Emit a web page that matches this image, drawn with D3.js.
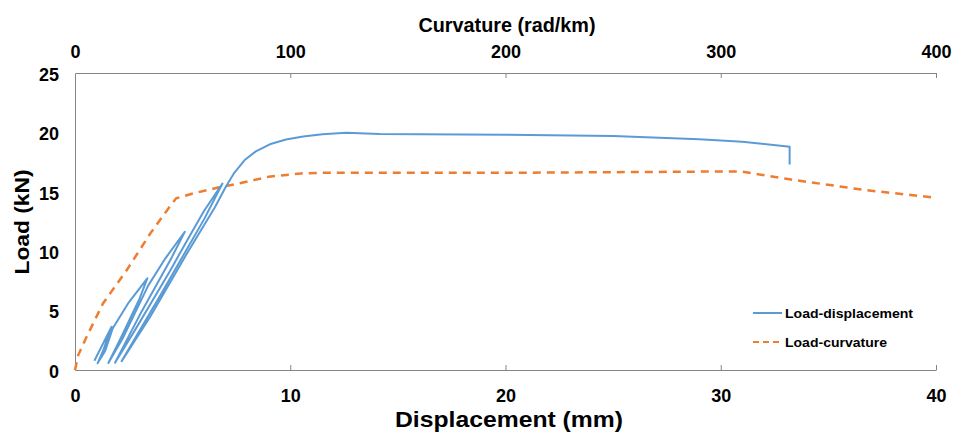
<!DOCTYPE html>
<html>
<head>
<meta charset="utf-8">
<script src="https://cdn.jsdelivr.net/npm/d3@7"></script>
<style>
  body { margin: 0; background: #fff; }
  svg { font-family: "Liberation Sans", Arial, sans-serif; }
  .tick text { font-weight: bold; font-size: 18px; fill: #000; }
  .axis-title { font-weight: bold; fill: #000; }
</style>
</head>
<body>
<div id="chart"></div>
<script>
const width = 962;
const height = 435;

// Load-displacement (mm, kN), cyclic loops then envelope
const dispValues = [0.9, 1.7, 1.3, 1.05, 1.4, 1.75, 2.5, 3.36, 3.0, 2.1, 1.55, 2.2, 3.4, 4.2, 5.1, 4.5, 3.0, 1.86, 2.8, 4.4, 5.3, 6.0, 6.85, 6.0, 4.0, 2.17, 3.5, 5.2, 6.5, 7.0, 7.4, 7.9, 8.4, 9.05, 9.8, 10.6, 11.5, 12.6, 14.15, 16, 20, 25, 29, 31, 33.2, 33.2];
const dispLoads  = [0.78, 3.64, 1.6, 0.56, 1.6, 3.5, 5.7, 7.72, 6.0, 2.6, 0.6, 2.6, 7.1, 9.4, 11.64, 9.5, 4.6, 0.62, 3.4, 8.3, 11.2, 13.4, 15.7, 12.7, 6.4, 0.75, 4.5, 9.8, 13.7, 15.4, 16.6, 17.7, 18.4, 19.0, 19.4, 19.65, 19.85, 19.97, 19.87, 19.84, 19.8, 19.7, 19.42, 19.22, 18.8, 17.3];

// Load-curvature (rad/km, kN)
const curvValues = [0, 1.5, 5.4, 13, 24, 35, 44, 47, 55, 67, 75, 90, 105, 114, 200, 250, 290, 310, 332, 367, 400];
const curvLoads  = [0, 1.26, 2.8, 5.6, 8.4, 11.5, 13.75, 14.45, 14.87, 15.38, 15.66, 16.27, 16.55, 16.6, 16.6, 16.65, 16.7, 16.7, 16.05, 15.15, 14.5];

const dispTicks = [0, 10, 20, 30, 40];
const curvTicks = [0, 100, 200, 300, 400];
const loadTicks = [0, 5, 10, 15, 20, 25];

const margin = { top: 73, right: 26, bottom: 65, left: 75 };
const innerW = width - margin.left - margin.right;
const innerH = height - margin.top - margin.bottom;

const svg = d3.select("#chart")
  .append("svg")
  .attr("width", width)
  .attr("height", height);

const g = svg.append("g")
  .attr("transform", `translate(${margin.left},${margin.top})`);

const x = d3.scaleLinear().domain([0, 40]).range([0, innerW]);
const xTop = d3.scaleLinear().domain([0, 400]).range([0, innerW]);
const y = d3.scaleLinear().domain([0, 25]).range([innerH, 0]);

const axisColor = "#858585";

// bottom axis
const bottomAxis = g.append("g")
  .attr("transform", `translate(0,${innerH})`)
  .call(d3.axisBottom(x).tickValues(dispTicks).tickSizeInner(-5).tickSizeOuter(0).tickPadding(19));
// top axis
const topAxis = g.append("g")
  .call(d3.axisTop(xTop).tickValues(curvTicks).tickSizeInner(-5).tickSizeOuter(0).tickPadding(15));
// left axis
const leftAxis = g.append("g")
  .call(d3.axisLeft(y).tickValues(loadTicks).tickSize(0).tickPadding(16));

[bottomAxis, topAxis, leftAxis].forEach(a => {
  a.select(".domain").attr("stroke", axisColor);
  a.selectAll(".tick line").attr("stroke", axisColor);
});
bottomAxis.selectAll(".tick").filter(d => d === 0).select("line").remove();
topAxis.selectAll(".tick").filter(d => d === 0).select("line").remove();
leftAxis.selectAll(".tick text").attr("dy", "0.4em");

const dispData = dispValues.map((d, i) => ({ x: d, y: dispLoads[i] }));
const curvData = curvValues.map((d, i) => ({ x: d, y: curvLoads[i] }));

g.append("path")
  .datum(curvData)
  .attr("fill", "none")
  .attr("stroke", "#ED7D31")
  .attr("stroke-width", 2.5)
  .attr("stroke-dasharray", "8,6")
  .attr("d", d3.line().x(d => xTop(d.x)).y(d => y(d.y)));

g.append("path")
  .datum(dispData)
  .attr("fill", "none")
  .attr("stroke", "#5B9BD5")
  .attr("stroke-width", 2)
  .attr("stroke-linejoin", "round")
  .attr("d", d3.line().x(d => x(d.x)).y(d => y(d.y)));

// axis titles (stretched to the reference widths)
svg.append("text")
  .attr("class", "axis-title")
  .attr("x", 507).attr("y", 32)
  .attr("text-anchor", "middle")
  .attr("textLength", 177)
  .attr("lengthAdjust", "spacingAndGlyphs")
  .style("font-size", "20px")
  .text("Curvature (rad/km)");

svg.append("text")
  .attr("class", "axis-title")
  .attr("x", 509).attr("y", 427)
  .attr("text-anchor", "middle")
  .attr("textLength", 228)
  .attr("lengthAdjust", "spacingAndGlyphs")
  .style("font-size", "22px")
  .text("Displacement (mm)");

svg.append("text")
  .attr("class", "axis-title")
  .attr("transform", "translate(29,222) rotate(-90)")
  .attr("text-anchor", "middle")
  .attr("textLength", 105)
  .attr("lengthAdjust", "spacingAndGlyphs")
  .style("font-size", "20px")
  .text("Load (kN)");

// legend
const legend = svg.append("g").attr("transform", "translate(753,313)");
const items = [
  { label: "Load-displacement", color: "#5B9BD5", dash: null, w: 2, len: 128 },
  { label: "Load-curvature", color: "#ED7D31", dash: "6,4", w: 2, len: 102 }
];
items.forEach((it, i) => {
  const row = legend.append("g").attr("transform", `translate(0,${i * 29})`);
  row.append("line")
    .attr("x1", 0).attr("x2", 29)
    .attr("stroke", it.color)
    .attr("stroke-width", it.w)
    .attr("stroke-dasharray", it.dash);
  row.append("text")
    .attr("x", 32).attr("dy", "0.35em")
    .attr("textLength", it.len)
    .attr("lengthAdjust", "spacingAndGlyphs")
    .style("font-size", "13px")
    .style("font-weight", "bold")
    .text(it.label);
});
</script>
</body>
</html>
